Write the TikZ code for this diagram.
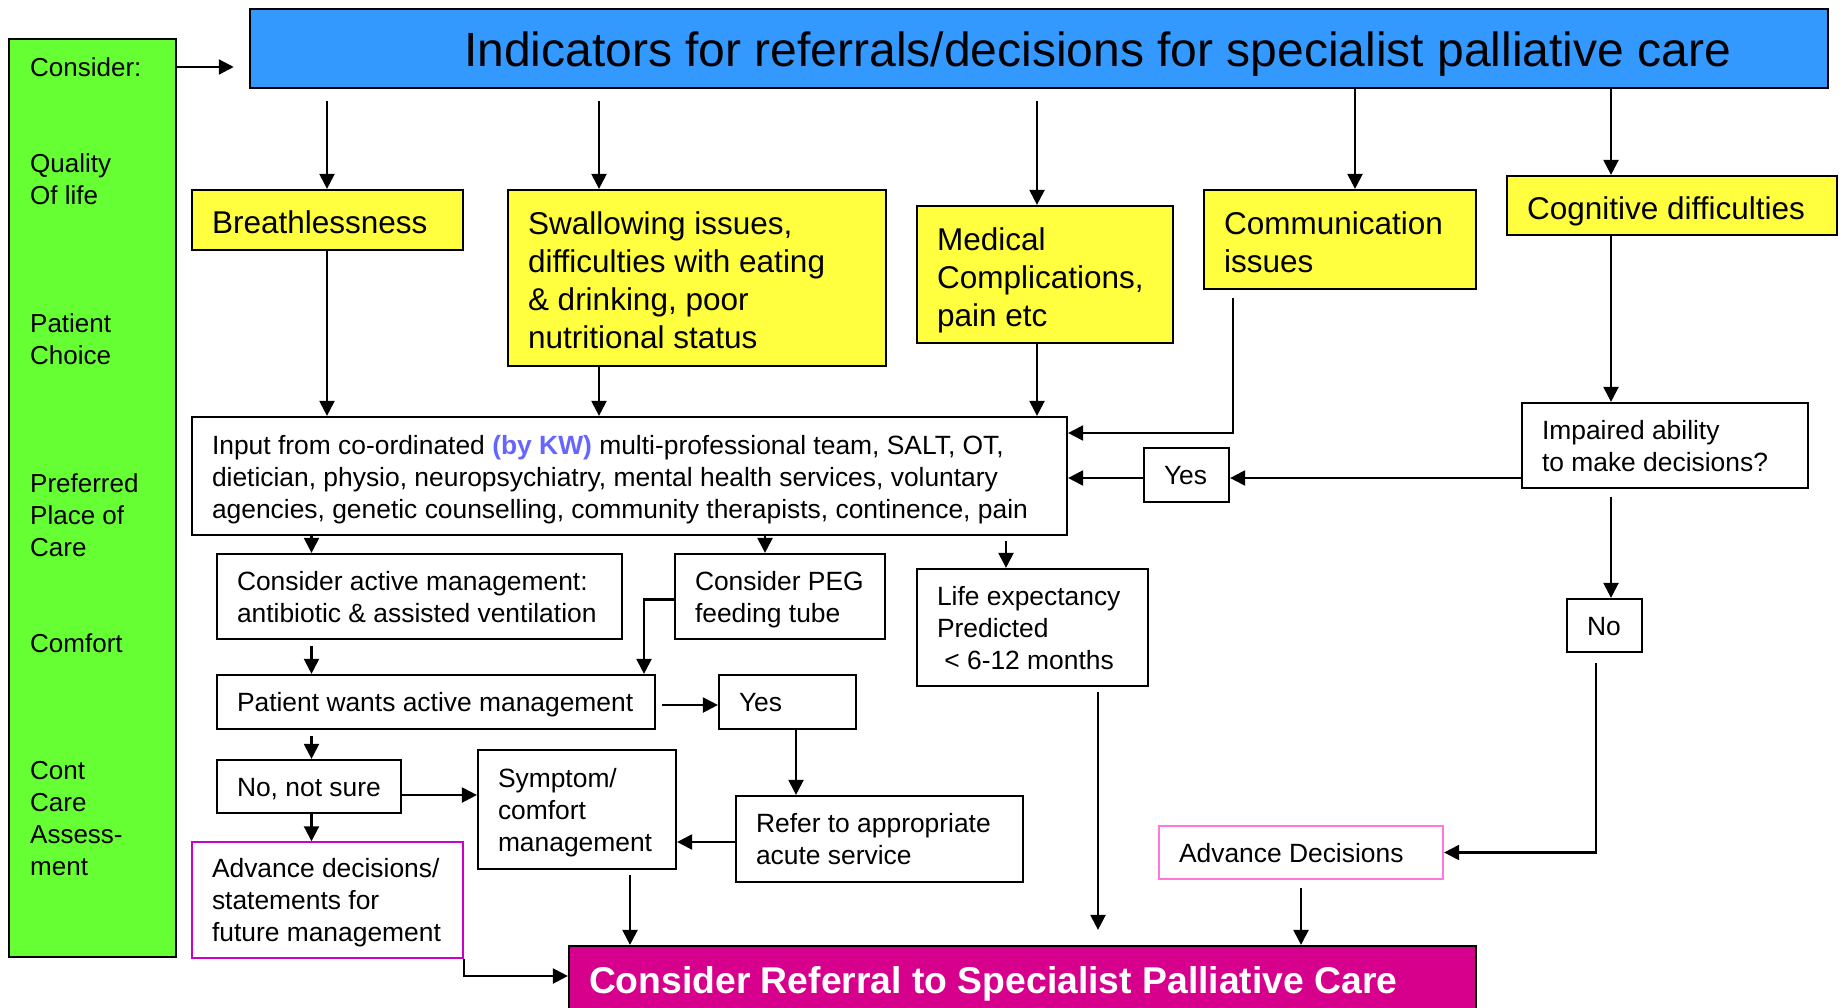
\documentclass[tikz,border=0pt]{standalone}
\usepackage{fontspec}
\setmainfont{Liberation Sans}
\usetikzlibrary{arrows.meta}
\definecolor{titleblue}{RGB}{51,153,255}
\definecolor{leftgreen}{RGB}{102,255,51}
\definecolor{boxyellow}{RGB}{255,255,64}
\definecolor{refmag}{RGB}{214,0,140}
\definecolor{advmag}{RGB}{204,0,204}
\definecolor{advpink}{RGB}{255,119,221}
\definecolor{kwblue}{RGB}{102,102,255}
\newcommand\mybox[8][3.5]{%
 \pgfmathsetmacro\mybw{#5-#3}\pgfmathsetmacro\mybh{#6-#4}\pgfmathsetmacro\mytw{#5-#3-40}%
 \pgfmathsetmacro\mycx{(#3+#5)/2}\pgfmathsetmacro\mycy{(#4+#6)/2}%
 \node[#7, minimum width=\mybw pt, minimum height=\mybh pt, inner xsep=20pt, inner ysep=0pt] (#2) at (\mycx,\mycy)
 {\makebox[\mytw pt][l]{\raisebox{-#1pt}[\height][\depth]{\begin{tabular}{@{}l@{}}#8\end{tabular}}}};}
\tikzset{
 bigbox/.style={draw, line width=2.2pt, font=\fontsize{31.5}{38}\selectfont},
 ybox/.style={bigbox, fill=boxyellow},
 sbox/.style={draw, line width=2.2pt, fill=white, font=\fontsize{26.4}{32}\selectfont},
 gtext/.style={anchor=west, align=left, inner sep=0pt, font=\fontsize{26}{32}\selectfont},
 arr/.style={line width=2.2pt, -{Triangle[length=15pt,width=15pt]}},
}
\begin{document}
\begin{tikzpicture}[x=1pt,y=-1pt]
\fill[white] (0,0) rectangle (1843,1008);
\useasboundingbox (0,0) rectangle (1843,1008);
% column coordinates
\coordinate (xa) at (311.5,0);
\coordinate (xbr) at (327,0);
\coordinate (xb) at (599,0);
\coordinate (xc) at (1037,0);
\coordinate (xd) at (1355,0);
\coordinate (xe) at (1611,0);
\coordinate (xcm) at (1233,433);
\coordinate (xpeg) at (765,0);
\coordinate (xpg) at (644,0);
\coordinate (xlife) at (1006,0);
\coordinate (xlv) at (1098,0);
\coordinate (xyes) at (796,0);
\coordinate (xno) at (1596,0);
\coordinate (xsym) at (630,0);
\coordinate (ynn) at (0,795);
\coordinate (yad) at (0,976);
\coordinate (ypw) at (0,705);
\coordinate (ypeg) at (0,599.5);
\coordinate (yimp) at (0,478);
\coordinate (yref) at (0,842);
% left green column
\mybox[0]{green}{9}{39}{176}{957}{draw, line width=2.2pt, fill=leftgreen}{}
\node[gtext] (g1) at (30,67) {Consider:};
\node[gtext] (g2) at (30,179) {Quality\\Of life};
\node[gtext] (g3) at (30,339) {Patient\\Choice};
\node[gtext] (g4) at (30,515) {Preferred\\Place of\\Care};
\node[gtext] (g5) at (30,643) {Comfort};
\node[gtext] (g6) at (30,819) {Cont\\Care\\Assess-\\ment};
% title
\mybox[7]{title}{250}{9}{1828}{88}{draw, line width=2.5pt, fill=titleblue, font=\fontsize{48}{57}\selectfont}{\hspace*{194pt}Indicators for referrals/decisions for specialist palliative care}
% yellow boxes
\mybox[6]{brea}{192}{190}{463}{250}{ybox}{Breathlessness}
\mybox[6]{swal}{508}{190}{886}{366}{ybox}{Swallowing issues,\\difficulties with eating\\\& drinking, poor\\nutritional status}
\mybox[6]{med}{917}{206}{1173}{343}{ybox}{Medical\\Complications,\\pain etc}
\mybox[6]{comm}{1204}{190}{1476}{289}{ybox}{Communication\\issues}
\mybox[6]{cog}{1507}{176}{1837}{235}{ybox}{Cognitive difficulties}
% input and decision boxes
\mybox[4.4]{input}{192}{417}{1067}{535}{sbox}{Input from co-ordinated {\color{kwblue}\bfseries(by KW)} multi-professional team, SALT, OT,\\dietician, physio, neuropsychiatry, mental health services, voluntary\\agencies, genetic counselling, community therapists, continence, pain}
\mybox{yes1}{1144}{448}{1229}{502}{sbox}{Yes}
\mybox{imp}{1522}{403}{1808}{488}{sbox}{Impaired ability\\to make decisions?}
\mybox{no}{1567}{599}{1642}{652}{sbox}{No}
\mybox{cact}{217}{554}{622}{639}{sbox}{Consider active management:\\antibiotic \& assisted ventilation}
\mybox{peg}{675}{554}{885}{639}{sbox}{Consider PEG\\feeding tube}
\mybox{life}{917}{569}{1148}{686}{sbox}{Life expectancy\\Predicted\\\ \textless\ 6-12 months}
\mybox{pw}{217}{675}{655}{729}{sbox}{Patient wants active management}
\mybox{yes2}{719}{675}{856}{729}{sbox}{Yes}
\mybox{nns}{217}{760}{401}{813}{sbox}{No, not sure}
\mybox{sym}{478}{750}{676}{869}{sbox}{Symptom/\\comfort\\management}
\mybox{refer}{736}{796}{1023}{882}{sbox}{Refer to appropriate\\acute service}
\mybox{advdec}{192}{842}{463}{958}{sbox, draw=advmag, line width=1.5pt}{Advance decisions/\\statements for\\future management}
\mybox{advd}{1159}{826}{1443}{879}{sbox, draw=advpink}{Advance Decisions}
\mybox[4]{ref}{569}{946}{1476}{1016}{draw, line width=2.2pt, fill=refmag, text=white, font=\fontsize{37.3}{43}\selectfont\bfseries}{Consider Referral to Specialist Palliative Care}
% connectors
\draw[arr, shorten >=15pt] (green.east |- g1) -- (title.west |- g1);
\draw[arr, shorten <=12pt] (title.south -| xbr) -- (brea.north -| xbr);
\draw[arr, shorten <=12pt] (title.south -| xb) -- (swal.north -| xb);
\draw[arr, shorten <=12pt] (title.south -| xc) -- (med.north -| xc);
\draw[arr] (title.south -| xd) -- (comm.north -| xd);
\draw[arr] (title.south -| xe) -- (cog.north -| xe);
\draw[arr] (brea.south -| xbr) -- (input.north -| xbr);
\draw[arr] (swal.south -| xb) -- (input.north -| xb);
\draw[arr] (med.south -| xc) -- (input.north -| xc);
\draw[arr, shorten <=8pt] (comm.south -| xcm) |- (input.east |- xcm);
\draw[arr] (cog.south -| xe) -- (imp.north -| xe);
\draw[arr] (imp.west |- yimp) -- (yes1.east |- yimp);
\draw[arr] (yes1.west |- yimp) -- (input.east |- yimp);
\draw[arr, shorten <=8pt] (imp.south -| xe) -- (no.north -| xe);
\draw[arr, shorten <=10pt] (no.south -| xno) |- (advd.east);
\draw[arr, shorten <=8pt] (advd.south) -- (ref.north -| advd.south);
\draw[arr] (input.south -| xa) -- (cact.north -| xa);
\draw[arr] (input.south -| xpeg) -- (peg.north -| xpeg);
\draw[arr, shorten <=5pt] (input.south -| xlife) -- (life.north -| xlife);
\draw[arr, shorten <=5pt, shorten >=15pt] (life.south -| xlv) -- (ref.north -| xlv);
\draw[arr, shorten <=6pt] (cact.south -| xa) -- (pw.north -| xa);
\draw[arr] (peg.west |- ypeg) -| (pw.north -| xpg);
\draw[arr, shorten <=6pt] (pw.east |- ypw) -- (yes2.west |- ypw);
\draw[arr] (yes2.south -| xyes) -- (refer.north -| xyes);
\draw[arr] (refer.west |- yref) -- (sym.east |- yref);
\draw[arr, shorten <=6pt] (pw.south -| xa) -- (nns.north -| xa);
\draw[arr] (nns.east |- ynn) -- (sym.west |- ynn);
\draw[arr] (nns.south -| xa) -- (advdec.north -| xa);
\draw[arr] (advdec.south east) |- (ref.west |- yad);
\draw[arr, shorten <=5pt] (sym.south -| xsym) -- (ref.north -| xsym);
\end{tikzpicture}
\end{document}
